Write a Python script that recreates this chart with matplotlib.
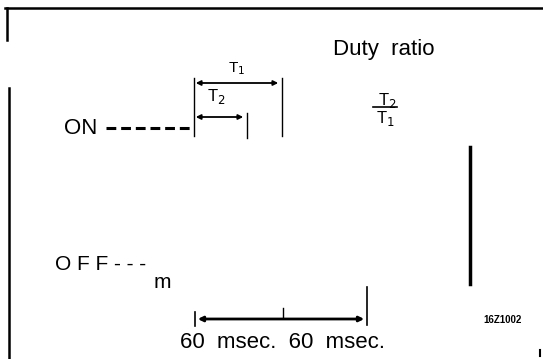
import matplotlib
matplotlib.use("Agg")
import matplotlib.pyplot as plt

# ---- content ----
state_labels = ["ON", "O F F"]
title_text = "Duty  ratio"
period_labels = ["T$_1$", "T$_2$"]
ratio_num = "T$_2$"
ratio_den = "T$_1$"
time_labels = ["60  msec.", "60  msec."]
figure_code = "16Z1002"

W, H = 543, 359
fig = plt.figure(figsize=(W / 100, H / 100), dpi=100)
ax = fig.add_axes([0, 0, 1, 1])
ax.set_xlim(0, W)
ax.set_ylim(H, 0)
ax.axis("off")

FONT = "Liberation Sans"
k = "black"

# frame lines
ax.plot([5, W], [8, 8], color=k, lw=1.8)
ax.plot([7, 7], [8, 40], color=k, lw=1.8)
ax.plot([9, 9], [88, H], color=k, lw=1.8)

# title
ax.text(384, 50, title_text, fontsize=16, family=FONT, ha="center", va="center")

# T1 dimension
ax.annotate("", xy=(193, 83), xytext=(281, 83),
            arrowprops=dict(arrowstyle="<|-|>", color=k, lw=1.3, mutation_scale=7))
ax.text(237, 69, period_labels[0], fontsize=11, family=FONT, ha="center", va="center")
# T2 dimension
ax.annotate("", xy=(193, 117), xytext=(246, 117),
            arrowprops=dict(arrowstyle="<|-|>", color=k, lw=1.3, mutation_scale=7))
ax.text(216, 97, period_labels[1], fontsize=12, family=FONT, ha="center", va="center")

# vertical extension lines
ax.plot([194, 194], [78, 136], color=k, lw=1.0)
ax.plot([282, 282], [78, 136], color=k, lw=1.0)
ax.plot([247, 247], [113, 138], color=k, lw=1.0)

# ON level
ax.text(81, 128, state_labels[0], fontsize=16, family=FONT, ha="center", va="center")
ax.plot([106, 192], [128, 128], color=k, lw=2.2, ls=(0, (3.2, 1.6)))

# ratio
ax.text(387, 100, ratio_num, fontsize=12, family=FONT, ha="center", va="center")
ax.plot([373, 397], [107, 107], color=k, lw=1.2)
ax.text(385, 118, ratio_den, fontsize=12, family=FONT, ha="center", va="center")

# thick vertical bar
ax.plot([470, 470], [147, 284], color=k, lw=2.5)

# OFF level
ax.text(55, 265, state_labels[1] + " - - -", fontsize=15, family=FONT, ha="left", va="center")
ax.text(162, 282, "m", fontsize=15, family=FONT, ha="center", va="center")

# bottom time axis
ax.annotate("", xy=(195, 319), xytext=(367, 319),
            arrowprops=dict(arrowstyle="<|-|>", color=k, lw=2.0, mutation_scale=7))
ax.plot([195, 195], [312, 326], color=k, lw=1.2)
ax.plot([367, 367], [287, 325], color=k, lw=1.2)
ax.plot([283, 283], [308, 318], color=k, lw=1.0)

ax.text(282, 342, time_labels[0] + "  " + time_labels[1], fontsize=16, family=FONT,
        ha="center", va="center")

ax.text(503, 320, figure_code, fontsize=7, family=FONT, weight="bold", ha="center", va="center")
ax.plot([540, 540], [350, 356], color=k, lw=1.5)

fig.savefig("out.png", dpi=100)
